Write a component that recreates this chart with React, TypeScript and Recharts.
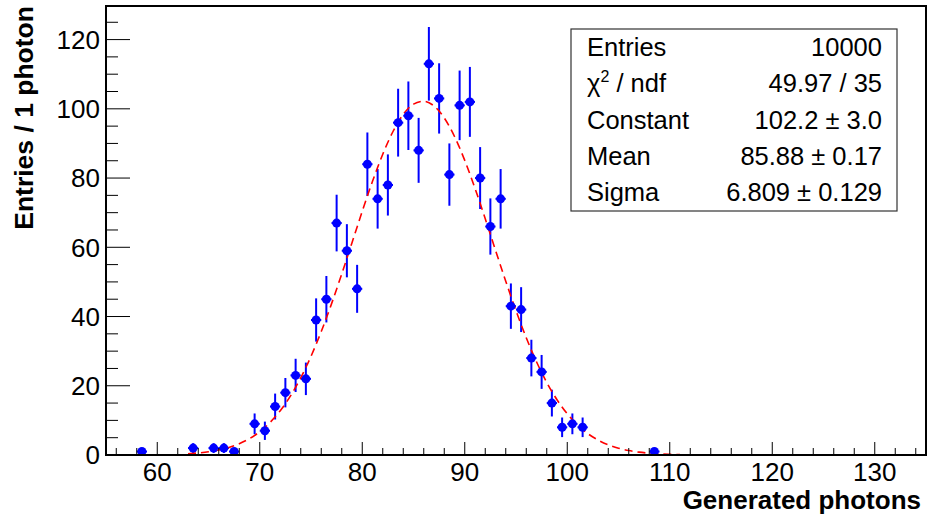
import { ComposedChart, Scatter, Line, XAxis, YAxis, ErrorBar } from 'recharts';

const BIN_CENTERS = [
  58.5, 63.5, 65.5, 66.5, 67.5, 69.5, 70.5, 71.5, 72.5, 73.5, 74.5, 75.5, 76.5, 77.5, 78.5, 79.5,
  80.5, 81.5, 82.5, 83.5, 84.5, 85.5, 86.5, 87.5, 88.5, 89.5, 90.5, 91.5, 92.5, 93.5, 94.5, 95.5,
  96.5, 97.5, 98.5, 99.5, 100.5, 101.5, 108.5,
];
const COUNTS = [
  1, 2, 2, 2, 1, 9, 7, 14, 18, 23, 22, 39, 45, 67, 59, 48,
  84, 74, 78, 96, 98, 88, 113, 103, 81, 101, 102, 80, 66, 74, 43, 42,
  28, 24, 15, 8, 9, 8, 1,
];

// red dashed gaussian fit at integer x
const FIT_X = [
  63, 64, 65, 66, 67, 68, 69, 70, 71, 72, 73, 74, 75, 76, 77, 78, 79, 80, 81, 82, 83, 84, 85, 86, 87,
  88, 89, 90, 91, 92, 93, 94, 95, 96, 97, 98, 99, 100, 101, 102, 103, 104, 105, 106, 107, 108, 109, 110, 111,
];
const FIT_Y = [
  0.36, 0.59, 0.93, 1.44, 2.19, 3.25, 4.73, 6.73, 9.38, 12.8, 17.08, 22.31, 28.51, 35.67, 43.66, 52.32,
  61.34, 70.39, 79.05, 86.88, 93.45, 98.38, 101.35, 102.18, 100.83, 97.37, 92.01, 85.1, 77.03, 68.23,
  59.15, 50.19, 41.67, 33.87, 26.93, 20.96, 15.97, 11.9, 8.68, 6.2, 4.33, 2.96, 1.98, 1.3, 0.83, 0.52,
  0.32, 0.19, 0.11,
];

const X_TICKS = [
  56, 58, 60, 62, 64, 66, 68, 70, 72, 74, 76, 78, 80, 82, 84, 86, 88, 90, 92, 94, 96, 98, 100,
  102, 104, 106, 108, 110, 112, 114, 116, 118, 120, 122, 124, 126, 128, 130, 132, 134,
];
const Y_TICKS = [0, 5, 10, 15, 20, 25, 30, 35, 40, 45, 50, 55, 60, 65, 70, 75, 80, 85, 90, 95, 100, 105, 110, 115, 120, 125];

const STATS_LABELS = ['Entries', 'χ2 / ndf', 'Constant', 'Mean', 'Sigma'];
const STATS_VALUES = ['10000', '49.97 / 35', '102.2 ± 3.0', '85.88 ± 0.17', '6.809 ± 0.129'];

const FONT = "'Liberation Sans', Arial, Helvetica, sans-serif";
const W = 928;
const H = 518;
const LEFT = 106;
const TOP = 6;
const RIGHT = 926;
const BOTTOM = 455;
const BLUE = '#0000ff';

const points = BIN_CENTERS.map((x, i) => ({ x, y: COUNTS[i], ey: Math.sqrt(COUNTS[i]), ex: 0.5 }));
const fit = FIT_X.map((x, i) => ({ x, y: FIT_Y[i] }));

function XTick(props: any) {
  const { x, payload } = props;
  const v = payload.value;
  const major = v % 10 === 0;
  return (
    <g>
      <line x1={x} x2={x} y1={BOTTOM} y2={BOTTOM - (major ? 13 : 7)} stroke="#000" strokeWidth={1} />
      {major && (
        <text x={x} y={BOTTOM + 26} textAnchor="middle" fontSize={26} fontFamily={FONT} fill="#000">
          {v}
        </text>
      )}
    </g>
  );
}

function YTick(props: any) {
  const { y, payload } = props;
  const v = payload.value;
  const major = v % 20 === 0;
  return (
    <g>
      <line x1={LEFT} x2={LEFT + (major ? 24 : 12)} y1={y} y2={y} stroke="#000" strokeWidth={1} />
      {major && (
        <text x={LEFT - 6} y={y} dy="0.36em" textAnchor="end" fontSize={26} fontFamily={FONT} fill="#000">
          {v}
        </text>
      )}
    </g>
  );
}

function Dot(props: any) {
  return <circle cx={props.cx} cy={props.cy} r={4.5} fill={BLUE} />;
}

function StatsBox() {
  const x0 = 571;
  const y0 = 29;
  const w = 326;
  const h = 182;
  const row = h / 5;
  return (
    <g fontFamily={FONT} fontSize={25.5} fill="#000">
      <rect x={x0} y={y0} width={w} height={h} fill="#fff" stroke="#333" strokeWidth={1.2} />
      {STATS_LABELS.map((label, i) => {
        const cy = y0 + row * (i + 0.5);
        return (
          <g key={label}>
            <text x={x0 + 16} y={cy} dy="0.34em">
              {label === 'χ2 / ndf' ? (
                <>
                  χ<tspan dy="-10" fontSize={16}>2</tspan>
                  <tspan dy="10"> / ndf</tspan>
                </>
              ) : (
                label
              )}
            </text>
            <text x={x0 + w - 15} y={cy} dy="0.34em" textAnchor="end">
              {STATS_VALUES[i]}
            </text>
          </g>
        );
      })}
    </g>
  );
}

export default function App() {
  return (
    <div style={{ position: 'relative', width: W, height: H, background: '#fff' }}>
      <style>{'body{margin:0;background:#fff}'}</style>
      <ComposedChart width={W} height={H} margin={{ top: TOP, right: W - RIGHT, bottom: 0, left: 0 }}>
        <XAxis
          type="number"
          dataKey="x"
          domain={[55, 135]}
          allowDataOverflow
          ticks={X_TICKS}
          interval={0}
          height={H - BOTTOM}
          tick={<XTick />}
          tickLine={false}
          axisLine={false}
        />
        <YAxis
          type="number"
          domain={[0, 129.7]}
          allowDataOverflow
          ticks={Y_TICKS}
          interval={0}
          width={LEFT}
          tick={<YTick />}
          tickLine={false}
          axisLine={false}
        />
        <Scatter data={points} dataKey="y" fill={BLUE} shape={<Dot />} isAnimationActive={false}>
          <ErrorBar dataKey="ey" direction="y" width={0} stroke={BLUE} strokeWidth={2} isAnimationActive={false} />
          <ErrorBar dataKey="ex" direction="x" width={0} stroke={BLUE} strokeWidth={2} isAnimationActive={false} />
        </Scatter>
        <Line
          data={fit}
          dataKey="y"
          type="monotone"
          stroke="#ff0000"
          strokeWidth={1.6}
          strokeDasharray="8 5"
          dot={false}
          isAnimationActive={false}
        />
      </ComposedChart>
      <svg width={W} height={H} style={{ position: 'absolute', left: 0, top: 0, pointerEvents: 'none' }}>
        <rect x={LEFT} y={TOP} width={RIGHT - LEFT} height={BOTTOM - TOP} fill="none" stroke="#000" strokeWidth={2} />
        <text
          transform={`translate(33, ${TOP}) rotate(-90)`}
          textAnchor="end"
          fontFamily={FONT}
          fontSize={26.5}
          fontWeight="bold"
        >
          Entries / 1 photon
        </text>
        <text x={921} y={509} textAnchor="end" fontFamily={FONT} fontSize={26} fontWeight="bold">
          Generated photons
        </text>
        <StatsBox />
      </svg>
    </div>
  );
}
